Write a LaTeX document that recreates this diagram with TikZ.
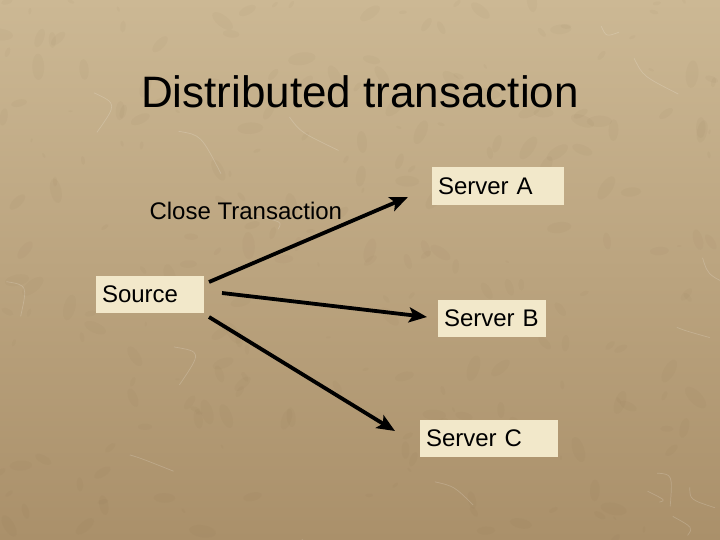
\documentclass[tikz,border=0pt]{standalone}
\usepackage{fontspec}
\setmainfont{Liberation Sans}
\usetikzlibrary{positioning,arrows.meta}

\definecolor{marbletop}{RGB}{204,184,148}
\definecolor{marblebot}{RGB}{170,144,106}
\definecolor{marbledark}{RGB}{120,95,60}
\definecolor{cardfill}{RGB}{242,232,202}

\begin{document}
\begin{tikzpicture}[
    x=1pt,
    y=-1pt,
    box/.style={fill=cardfill, anchor=north west, inner xsep=6pt, inner ysep=0pt,
        outer sep=0pt, align=left, font=\fontsize{24}{28}\selectfont},
    flow/.style={-{Stealth[length=18pt,width=15pt,inset=4pt]}, line width=3.8pt}
]
    \useasboundingbox (0,0) rectangle (720,540);

    % Fond marbre
    \begin{scope}
        \clip (0,0) rectangle (720,540);
        \shade[top color=marbletop, bottom color=marblebot] (0,0) rectangle (720,540);
        \pgfmathsetseed{11}
        \foreach \i in {1,...,260}{
            \pgfmathsetmacro\px{rnd*720}
            \pgfmathsetmacro\py{rnd*540}
            \pgfmathsetmacro\pr{2+rnd*12}
            \fill[marbledark, opacity=0.045, rotate around={rnd*180:(\px,\py)}]
                (\px,\py) ellipse ({\pr} and {\pr*0.45});
        }
        \foreach \i in {1,...,18}{
            \pgfmathsetmacro\px{rnd*720}
            \pgfmathsetmacro\py{rnd*540}
            \draw[white, opacity=0.18, line width=0.7pt]
                (\px,\py) .. controls ({\px+30*rnd},{\py+20*rnd}) .. ({\px+60*rnd-10},{\py+50*rnd});
        }
    \end{scope}

    % Titre
    \node[anchor=base, font=\fontsize{44}{52}\selectfont] (title) at (360,108) {Distributed transaction};

    % Boites
    \node[box, text width=96pt, minimum height=37pt] (src) at (96,276) {Source};
    \node[box, text width=120pt, minimum height=38pt] (srvA) at (432,167) {Server A};
    \node[box, text width=96pt, minimum height=37pt] (srvB) at (438,300) {Server B};
    \node[box, text width=126pt, minimum height=37pt] (srvC) at (420,420) {Server C};

    % Label
    \node[anchor=base west, font=\fontsize{24}{28}\selectfont] (close) at (146,219) {Close Transaction};

    % Fleches
    \draw[flow] ([shift={(5,6)}]src.north east) -- ([shift={(-24,11)}]srvA.west);
    \draw[flow] ([shift={(18,-1.5)}]src.east) -- ([shift={(-11,-1.5)}]srvB.west);
    \draw[flow] ([shift={(5,4)}]src.south east) -- ([shift={(-25,-7.5)}]srvC.west);
\end{tikzpicture}
\end{document}
